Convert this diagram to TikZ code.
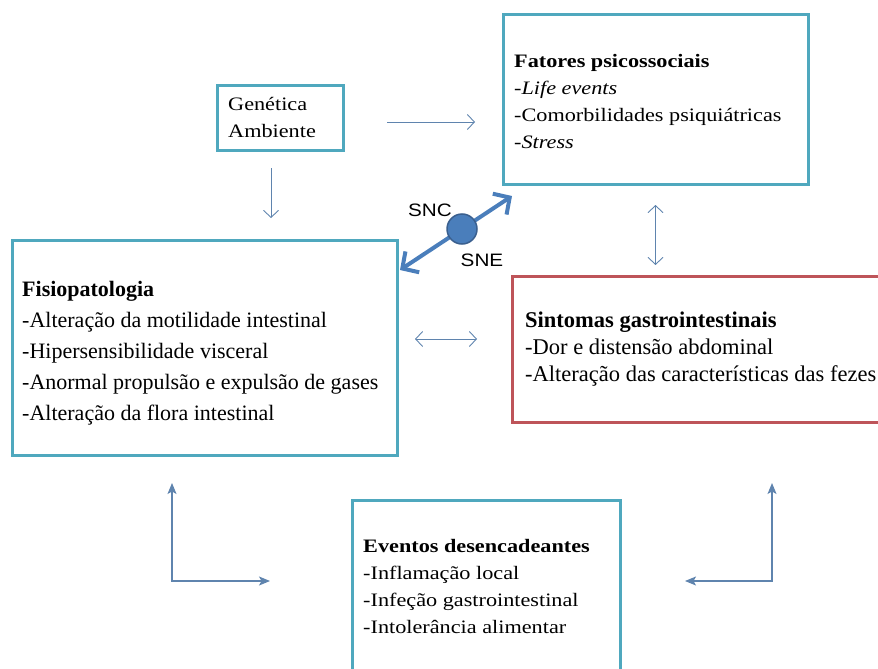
\documentclass[tikz,border=0pt]{standalone}
\usepackage{fontspec}
\setmainfont{Liberation Serif}
\newfontfamily\widerm{Liberation Serif}[FakeStretch=1.17]
\newfontfamily\widess{Liberation Sans}[FakeStretch=1.15]
\usepackage{tikz}
\usetikzlibrary{arrows.meta,positioning}
\definecolor{boxcyan}{HTML}{4FA8BE}
\definecolor{boxred}{HTML}{BE5459}
\definecolor{linkblue}{HTML}{5F84AE}
\definecolor{axisblue}{HTML}{4A7EBB}
\definecolor{hubedge}{HTML}{3A5F8E}

\begin{document}
\begin{tikzpicture}
		[x=1pt,y=1pt,
		 box/.style={draw=boxcyan,line width=3pt,outer sep=0pt,inner sep=0pt},
		 txt/.style={anchor=west,align=left,inner sep=0pt},
		 small/.style={font=\widerm\fontsize{19}{27}\selectfont},
		 large/.style={font=\fontsize{22}{31}\selectfont},
		 link/.style={linkblue,line width=0.9pt},
		 elbow/.style={linkblue,line width=1.2pt,{Stealth[length=11pt,width=9pt,inset=2.5pt]}-{Stealth[length=11pt,width=9pt,inset=2.5pt]}},
		 axis/.style={axisblue,line width=4pt,{Straight Barb[length=12pt,width=25pt]}-{Straight Barb[length=12pt,width=25pt]}},
		 hub/.style={circle,fill=axisblue,draw=hubedge,line width=1.5pt,minimum size=30pt,inner sep=0pt},
		 lbl/.style={font=\widess\fontsize{18}{20}\selectfont,inner sep=0pt},
		 >={Straight Barb[length=7pt,width=15pt]}]
		\useasboundingbox (0,0) rectangle (878,-669);
		\clip (0,0) rectangle (878,-669);
		%boxes
		\node[box,minimum width=126pt,minimum height=65pt] (gen) at (280,-117.5) {};
		\node[box,minimum width=305pt,minimum height=169pt] (fat) at (655.5,-99.5) {};
		\node[box,minimum width=385pt,minimum height=215pt] (fis) at (204.5,-347.5) {};
		\node[box,draw=boxred,minimum width=388pt,minimum height=146pt] (sin) at (706,-349) {};
		\node[box,minimum width=268pt,minimum height=180pt] (eve) at (486,-590) {};
		%texts
		\node[txt,small,right=11pt of gen.west] (genT) {Genética\\Ambiente};
		\node[txt,small,right=11pt of fat.west,yshift=-2pt] (fatT) {\textbf{Fatores psicossociais}\\-\textit{Life events}\\-Comorbilidades psiquiátricas\\-\textit{Stress}};
		\node[txt,large,right=10pt of fis.west,yshift=-6pt] (fisT) {\textbf{Fisiopatologia}\\-Alteração da motilidade intestinal\\-Hipersensibilidade visceral\\-Anormal propulsão e expulsão de gases\\-Alteração da flora intestinal};
		\node[txt,right=13pt of sin.west,font=\fontsize{22.5}{27}\selectfont] (sinT) {\textbf{Sintomas gastrointestinais}\\-Dor e distensão abdominal\\-Alteração das características das fezes};
		\node[txt,small,right=11pt of eve.west,yshift=4pt] (eveT) {\textbf{Eventos desencadeantes}\\-Inflamação local\\-Infeção gastrointestinal\\-Intolerância alimentar};
		%thin arrows
		\draw[link,->,shorten <=44pt,shorten >=28pt] ([yshift=-4.5pt]gen.east) -- ([yshift=-4.5pt]gen.east -| fat.west);
		\draw[link,->,shorten <=18pt,shorten >=22pt] ([xshift=-9pt]gen.south) -- ([xshift=-9pt]gen.south |- fis.north);
		\draw[link,<->,shorten <=21pt,shorten >=11pt] (fat.south) -- (fat.south |- sin.north);
		\draw[link,<->,shorten <=18pt,shorten >=35pt] ([yshift=8.5pt]fis.east) -- ([yshift=8.5pt]fis.east -| sin.west);
		\draw[elbow,shorten <=28pt,shorten >=82pt] ([xshift=-32.5pt]fis.south) |- ([yshift=9pt]eve.west);
		\draw[elbow,shorten <=61pt,shorten >=65pt] ([xshift=66pt]sin.south) |- ([yshift=9pt]eve.east);
		%SNC - SNE
		\coordinate (cns) at (512,-196);
		\coordinate (ens) at (400,-270);
		\draw[axis] (ens) -- (cns);
		\node[hub] (hub) at (462,-229) {};
		\node[lbl] (snc) at (430,-210) {SNC};
		\node[lbl] (sne) at (482,-260) {SNE};
	\end{tikzpicture}
\end{document}
